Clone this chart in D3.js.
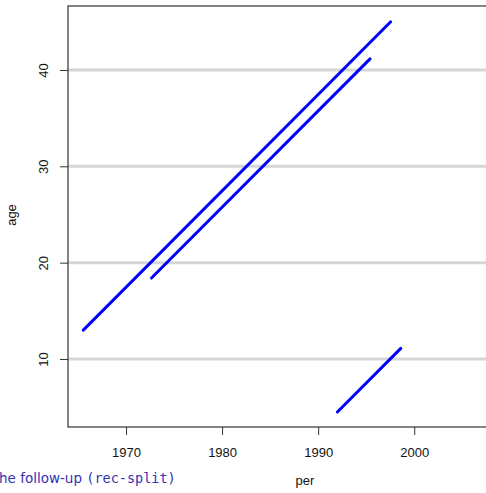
<!DOCTYPE html>
<html><head><meta charset="utf-8">
<script src="https://cdn.jsdelivr.net/npm/d3@7"></script>
<style>body{margin:0;background:#fff;overflow:hidden}</style>
</head><body>
<script>
// data: follow-up segments (period, age)
const segStartPer = [1965.55, 1972.65, 1992.0];
const segStartAge = [13.0, 18.4, 4.5];
const segEndPer   = [1997.55, 1995.4, 1998.6];
const segEndAge   = [45.0, 41.15, 11.1];
const xTicks = [1970, 1980, 1990, 2000];
const yTicks = [10, 20, 30, 40];
const xDomain = [1963.96, 2013.3];
const yDomain = [2.94, 46.64];

const W = 486, H = 493;
const L = 68, T = 6, R = 542, B = 427;
const svg = d3.select("body").append("svg").attr("width", W).attr("height", H);
const x = d3.scaleLinear().domain(xDomain).range([L, R]);
const y = d3.scaleLinear().domain(yDomain).range([B, T]);
const font = "'Liberation Sans', Arial, Helvetica, sans-serif";

// gridlines
svg.append("g").selectAll("line").data(yTicks).join("line")
  .attr("x1", L).attr("x2", R).attr("y1", d => y(d)).attr("y2", d => y(d))
  .attr("stroke", "#d6d6d6").attr("stroke-width", 3);

// segments
svg.append("g").selectAll("line").data(segStartPer.map((p, i) => i)).join("line")
  .attr("x1", i => x(segStartPer[i])).attr("y1", i => y(segStartAge[i]))
  .attr("x2", i => x(segEndPer[i])).attr("y2", i => y(segEndAge[i]))
  .attr("stroke", "#0000ff").attr("stroke-width", 3).attr("stroke-linecap", "round");

// box
svg.append("rect").attr("x", L).attr("y", T).attr("width", R - L).attr("height", B - T)
  .attr("fill", "none").attr("stroke", "#333").attr("stroke-width", 1.2);

// axes
const xa = svg.append("g").attr("transform", `translate(0,${B})`)
  .call(d3.axisBottom(x).tickValues(xTicks).tickFormat(d3.format("d")).tickSize(8).tickPadding(13));
xa.select(".domain").remove();
xa.selectAll("line").attr("stroke", "#333");
xa.selectAll("text").attr("font-family", font).attr("font-size", 13).attr("fill", "#111");

const ya = svg.append("g").attr("transform", `translate(${L},0)`)
  .call(d3.axisLeft(y).tickValues(yTicks).tickSize(8).tickFormat(d3.format("d")));
ya.select(".domain").remove();
ya.selectAll("line").attr("stroke", "#333");
ya.selectAll("text").attr("font-family", font).attr("font-size", 13).attr("fill", "#111")
  .attr("x", null).attr("dy", null)
  .attr("text-anchor", "middle")
  .attr("transform", "translate(-25,0) rotate(-90)")
  .attr("y", 0).attr("dominant-baseline", "central");

// axis labels
svg.append("text").attr("x", 305).attr("y", 485).attr("text-anchor", "middle")
  .attr("font-family", font).attr("font-size", 13).attr("fill", "#111").text("per");
svg.append("text").attr("transform", "translate(16,215) rotate(-90)").attr("text-anchor", "middle")
  .attr("font-family", font).attr("font-size", 13).attr("fill", "#111").text("age");

// caption fragment
const cap = svg.append("text").attr("x", -1).attr("y", 483)
  .attr("fill", "#3333b3");
cap.append("tspan").attr("font-family", "'DejaVu Sans', sans-serif").attr("font-size", 13.5).text("he follow-up ");
cap.append("tspan").attr("font-family", "'DejaVu Sans Mono', 'Liberation Mono', monospace").attr("font-size", 13.5).text("(rec-split)");
</script>
</body></html>
